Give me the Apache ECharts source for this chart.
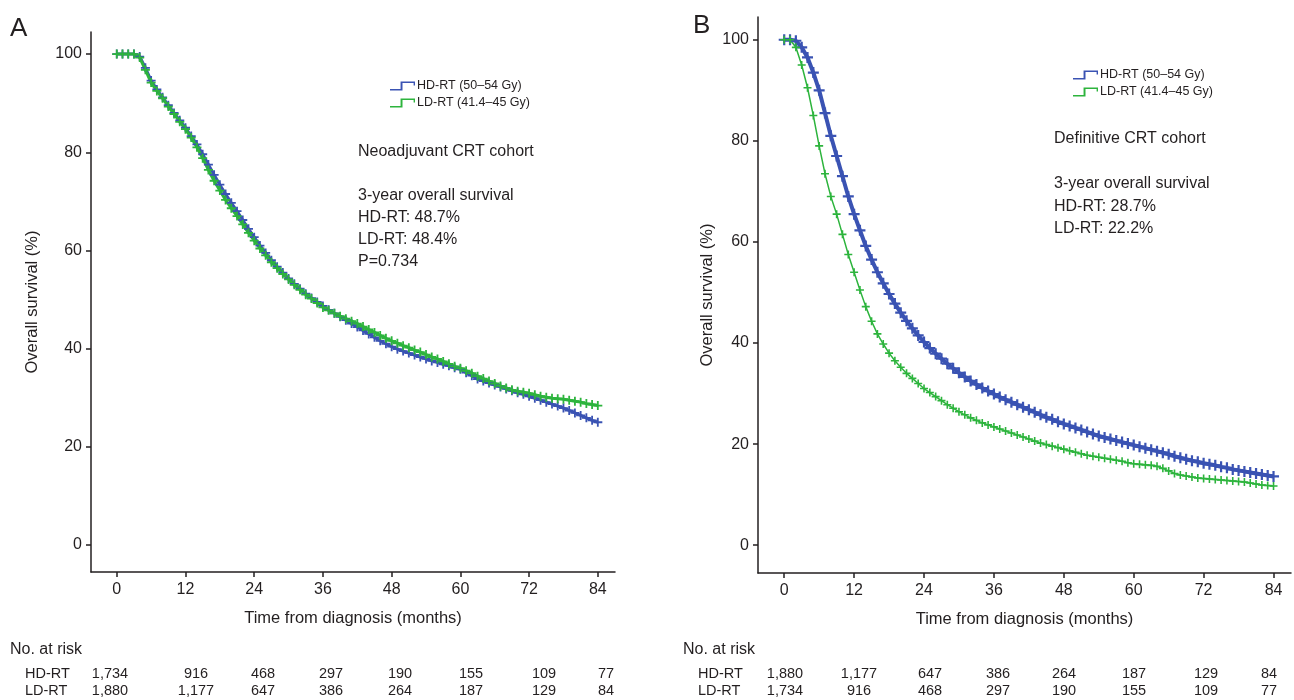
<!DOCTYPE html>
<html>
<head>
<meta charset="utf-8">
<script src="https://cdn.jsdelivr.net/npm/echarts@6/dist/echarts.min.js"></script>
<style>
    html, body {margin: 0; padding: 0; background: #fff;}
    #main {width: 1294px; height: 700px;}
</style>
</head>
<body>
<div id="main"></div>
<script>
// survival (%), one value per month 0..84
var hdNeo = [100, 100, 100, 100, 99.5, 97.2, 94.6, 92.8, 91.2, 89.6, 88, 86.5, 85, 83.3, 81.6, 79.6, 77.5, 75.4, 73.4, 71.5,
    69.7, 68, 66.2, 64.4, 62.7, 61, 59.5, 58, 56.7, 55.5, 54.3, 53.2, 52.2, 51.2, 50.3, 49.5, 48.7, 47.9, 47.2, 46.5,
    45.8, 45.1, 44.4, 43.7, 43, 42.3, 41.6, 41, 40.4, 39.9, 39.5, 39.1, 38.7, 38.3, 37.9, 37.5, 37.2, 36.8, 36.5, 36.1,
    35.8, 35.1, 34.5, 33.8, 33.4, 33, 32.6, 32.2, 31.8, 31.4, 31, 30.7, 30.3, 29.9, 29.5, 29.1, 28.7, 28.3, 27.9, 27.4,
    26.9, 26.4, 25.9, 25.4, 25];
var ldNeo = [100, 100, 100, 100, 99.3, 96.8, 94.2, 92.5, 91, 89.3, 87.8, 86.2, 84.7, 83, 81, 78.8, 76.4, 74.2, 72.2, 70.3,
    68.6, 67, 65.3, 63.6, 62, 60.4, 59, 57.6, 56.4, 55.2, 54.1, 53, 52, 51, 50.2, 49.3, 48.4, 47.8, 47.2, 46.6,
    46.1, 45.6, 45.1, 44.5, 43.9, 43.3, 42.7, 42.1, 41.6, 41.1, 40.6, 40.2, 39.7, 39.3, 38.8, 38.3, 37.9, 37.4, 36.9, 36.4,
    36, 35.5, 35, 34.4, 33.9, 33.4, 32.9, 32.4, 32, 31.6, 31.3, 31.1, 30.9, 30.6, 30.3, 30.1, 29.9, 29.8, 29.7, 29.5,
    29.3, 29.1, 28.8, 28.6, 28.4];
var hdDef = [100, 100, 99.8, 98.5, 96.5, 93.5, 90, 85.5, 81, 77, 73, 69, 65.5, 62.3, 59.2, 56.5, 54, 51.8, 49.7, 47.8,
    46, 44.4, 42.9, 41.5, 40.2, 39, 37.9, 36.9, 35.9, 35, 34.1, 33.3, 32.5, 31.8, 31.1, 30.5, 29.9, 29.3, 28.8, 28.3,
    27.8, 27.3, 26.8, 26.3, 25.8, 25.3, 24.9, 24.4, 24, 23.6, 23.2, 22.8, 22.4, 22, 21.6, 21.3, 21, 20.7, 20.4, 20.1,
    19.8, 19.5, 19.2, 18.9, 18.6, 18.3, 18, 17.6, 17.3, 17, 16.7, 16.5, 16.2, 16, 15.8, 15.5, 15.3, 15, 14.8, 14.6,
    14.4, 14.2, 14, 13.8, 13.6];
var ldDef = [100, 100, 98.5, 95, 90.5, 85, 79, 73.5, 69, 65.5, 61.5, 57.5, 54, 50.5, 47.2, 44.3, 41.8, 39.8, 38, 36.5,
    35.2, 34, 33, 32, 31, 30.2, 29.4, 28.6, 27.8, 27.1, 26.4, 25.8, 25.2, 24.7, 24.2, 23.8, 23.4, 23, 22.6, 22.2,
    21.8, 21.4, 21, 20.6, 20.2, 19.9, 19.6, 19.3, 19, 18.7, 18.4, 18.1, 17.8, 17.6, 17.4, 17.2, 17, 16.8, 16.6, 16.3,
    16.1, 16, 15.9, 15.8, 15.6, 15.2, 14.7, 14.2, 13.9, 13.7, 13.5, 13.3, 13.2, 13.1, 13, 12.9, 12.8, 12.7, 12.6, 12.5,
    12.3, 12.1, 11.9, 11.8, 11.7];

var xTicks = [0, 12, 24, 36, 48, 60, 72, 84];
var yTicks = [0, 20, 40, 60, 80, 100];
var names = ['HD-RT (50–54 Gy)', 'LD-RT (41.4–45 Gy)'];

// numbers at risk
var riskRows = ['HD-RT', 'LD-RT'];
var riskNeoHD = ['1,734', '916', '468', '297', '190', '155', '109', '77'];
var riskNeoLD = ['1,880', '1,177', '647', '386', '264', '187', '129', '84'];
var riskDefHD = ['1,880', '1,177', '647', '386', '264', '187', '129', '84'];
var riskDefLD = ['1,734', '916', '468', '297', '190', '155', '109', '77'];

var notesNeo = ['Neoadjuvant CRT cohort', '', '3-year overall survival', 'HD-RT: 48.7%', 'LD-RT: 48.4%', 'P=0.734'];
var notesDef = ['Definitive CRT cohort', '', '3-year overall survival', 'HD-RT: 28.7%', 'LD-RT: 22.2%'];

var BLUE = '#3a53b3';
var GREEN = '#2db43d';
var INK = '#231f20';
var FONT = '"Liberation Sans", Arial, sans-serif';
var PLUS = 'path://M4,0H6V4H10V6H6V10H4V6H0V4H4Z';
// little step used as legend icon (filled outline)
var STEP = 'path://M0,7.6L7.6,7.6L7.6,0L18,0L18,4L17,4L17,1.4L9,1.4L9,9L0,9Z';

function pts(arr) {
    return arr.map(function (v, i) { return [i, v]; });
}

function xAxisCfg(idx) {
    return {
        type: 'value', gridIndex: idx, min: -4.5, max: 87,
        name: 'Time from diagnosis (months)', nameLocation: 'middle', nameGap: 38,
        nameTextStyle: {fontSize: 16.5, color: INK, fontFamily: FONT},
        axisLine: {onZero: false, lineStyle: {color: INK, width: 1.5}},
        axisTick: {customValues: xTicks, length: 5, lineStyle: {color: INK, width: 1.5}},
        axisLabel: {customValues: xTicks, fontSize: 16, color: INK, fontFamily: FONT, margin: 10},
        splitLine: {show: false}
    };
}

function yAxisCfg(idx, gap) {
    return {
        type: 'value', gridIndex: idx, min: -5.5, max: 104.5,
        name: 'Overall survival (%)', nameLocation: 'middle', nameGap: gap,
        nameTextStyle: {fontSize: 16.5, color: INK, fontFamily: FONT},
        axisLine: {show: true, onZero: false, lineStyle: {color: INK, width: 1.5}},
        axisTick: {show: true, customValues: yTicks, length: 5, lineStyle: {color: INK, width: 1.5}},
        axisLabel: {customValues: yTicks, fontSize: 16, color: INK, fontFamily: FONT, margin: 9},
        splitLine: {show: false}
    };
}

function curve(name, idx, arr, color, lw, size) {
    return {
        name: name, type: 'line', xAxisIndex: idx, yAxisIndex: idx,
        data: pts(arr), symbol: PLUS, symbolSize: size, showSymbol: true,
        lineStyle: {color: color, width: lw}, itemStyle: {color: color},
        emphasis: {disabled: true}, silent: true
    };
}

function legendCfg(left, top) {
    return {
        left: left, top: top, orient: 'vertical', icon: STEP, symbolKeepAspect: false,
        itemWidth: 25, itemHeight: 9, itemGap: 3, padding: 0,
        data: names,
        textStyle: {fontSize: 12.5, lineHeight: 14, color: INK, fontFamily: FONT, padding: [0, 0, 0, -3]}
    };
}

function textEl(x, y, s, size) {
    return {type: 'text', left: x, top: y, style: {text: s, fontSize: size, fill: INK, fontFamily: FONT}};
}

function riskTable(x0, cols, hd, ld) {
    var els = [textEl(x0, 642, 'No. at risk', 16)];
    els.push(textEl(x0 + 15, 666, riskRows[0], 14.5));
    els.push(textEl(x0 + 15, 683, riskRows[1], 14.5));
    for (var i = 0; i < cols.length; i++) {
        els.push({type: 'text', x: cols[i], y: 666, style: {text: hd[i], fontSize: 14.5, fill: INK, fontFamily: FONT, align: 'center'}});
        els.push({type: 'text', x: cols[i], y: 683, style: {text: ld[i], fontSize: 14.5, fill: INK, fontFamily: FONT, align: 'center'}});
    }
    return els;
}

function notes(x, y0, lines, gap) {
    var els = [];
    for (var i = 0; i < lines.length; i++) {
        if (lines[i]) els.push(textEl(x, y0 + i * gap, lines[i], 16));
    }
    return els;
}

var graphics = [textEl(10, 16, 'A', 26), textEl(693, 13, 'B', 26)]
    .concat(riskTable(10, [110, 196, 263, 331, 400, 471, 544, 606], riskNeoHD, riskNeoLD))
    .concat(riskTable(683, [785, 859, 930, 998, 1064, 1134, 1206, 1269], riskDefHD, riskDefLD))
    .concat(notes(358, 144, notesNeo, 22))
    .concat(notes(1054, 131, notesDef, 22.5));

var myChart = echarts.init(document.getElementById('main'));
var option = {
    animation: false,
    backgroundColor: '#fff',
    grid: [
        {left: 91, top: 32, width: 524, height: 540},
        {left: 758, top: 17, width: 533, height: 556}
    ],
    xAxis: [xAxisCfg(0), xAxisCfg(1)],
    yAxis: [yAxisCfg(0, 50), yAxisCfg(1, 42)],
    legend: [legendCfg(390, 79), legendCfg(1073, 68)],
    series: [
        curve(names[0], 0, hdNeo, BLUE, 3, 9),
        curve(names[1], 0, ldNeo, GREEN, 3, 9),
        curve(names[0], 1, hdDef, BLUE, 4, 11),
        curve(names[1], 1, ldDef, GREEN, 1.5, 8)
    ],
    graphic: graphics
};
myChart.setOption(option);
</script>
</body>
</html>
